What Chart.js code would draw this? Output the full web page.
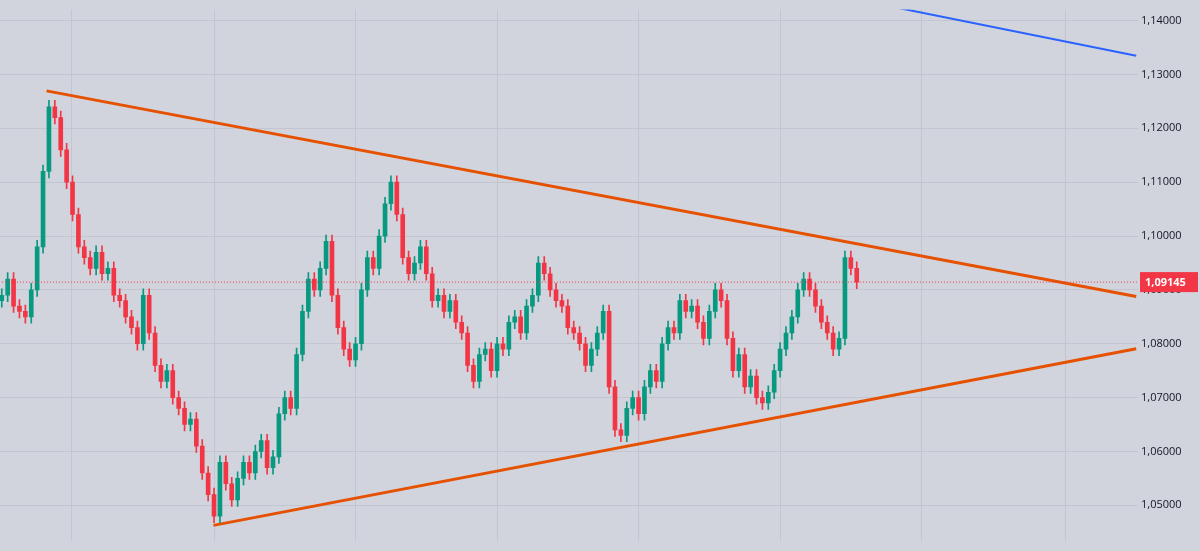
<!DOCTYPE html>
<html>
<head>
<meta charset="utf-8">
<script src="https://cdn.jsdelivr.net/npm/chart.js@4"></script>
<style>
  html, body { margin: 0; padding: 0; background: #d1d4dc; }
  #wrap { width: 1200px; height: 551px; }
</style>
</head>
<body>
<div id="wrap"><canvas id="chart"></canvas></div>
<script>
// closing prices, one per candle
var closes = [
  1.089, 1.092, 1.087, 1.086, 1.085, 1.090, 1.098, 1.112, 1.124, 1.122,
  1.116, 1.110, 1.104, 1.098, 1.096, 1.094, 1.097, 1.093, 1.094, 1.089,
  1.088, 1.085, 1.083, 1.080, 1.089, 1.082, 1.076, 1.073, 1.075, 1.070,
  1.068, 1.065, 1.066, 1.061, 1.056, 1.052, 1.048, 1.058, 1.054, 1.051,
  1.055, 1.058, 1.056, 1.060, 1.062, 1.057, 1.059, 1.067, 1.070, 1.068,
  1.078, 1.086, 1.092, 1.090, 1.094, 1.099, 1.089, 1.083, 1.079, 1.077,
  1.080, 1.090, 1.096, 1.094, 1.100, 1.106, 1.110, 1.104, 1.096, 1.093,
  1.095, 1.098, 1.093, 1.088, 1.089, 1.086, 1.088, 1.084, 1.082, 1.076,
  1.073, 1.078, 1.079, 1.075, 1.080, 1.079, 1.084, 1.085, 1.082, 1.087,
  1.089, 1.095, 1.093, 1.090, 1.088, 1.087, 1.083, 1.082, 1.080, 1.076,
  1.079, 1.082, 1.086, 1.072, 1.064, 1.063, 1.068, 1.070, 1.067, 1.072,
  1.075, 1.073, 1.080, 1.083, 1.082, 1.088, 1.086, 1.087, 1.084, 1.081,
  1.086, 1.090, 1.088, 1.081, 1.075, 1.078, 1.072, 1.074, 1.070, 1.069,
  1.071, 1.075, 1.079, 1.082, 1.085, 1.090, 1.092, 1.090, 1.087, 1.084,
  1.082, 1.079, 1.081, 1.096, 1.094, 1.09145
];
var firstOpen = 1.088;
var wick = 0.0012;

// trend lines: [x, price]
var upperLine = [[7.6, 1.12696], [192.4, 1.08876]];
var lowerLine = [[35.9, 1.04628], [192.4, 1.07907]];
var blueLine = [[145.8, 1.14373], [192.4, 1.13348]];
var lastPrice = 1.09145;

var up = '#089981', down = '#f23645';
var bodies = [], wicks = [], colors = [];
var prev = firstOpen;
closes.forEach(function (c, i) {
  var o = prev;
  bodies.push({ x: i, y: [o, c] });
  wicks.push({ x: i, y: [Math.min(o, c) - wick, Math.max(o, c) + wick] });
  colors.push(c >= o ? up : down);
  prev = c;
});

function pts(a) { return a.map(function (p) { return { x: p[0], y: p[1] }; }); }

var priceTag = {
  id: 'priceTag',
  afterDraw: function (chart) {
    var ctx = chart.ctx, y = chart.scales.y.getPixelForValue(lastPrice);
    var left = chart.chartArea.right + 2;
    ctx.save();
    ctx.fillStyle = down;
    ctx.fillRect(left, y - 10, 58, 20);
    ctx.fillStyle = '#fff';
    ctx.font = 'bold 11px "Open Sans", sans-serif';
    ctx.textBaseline = 'middle';
    ctx.fillText(lastPrice.toFixed(5).replace('.', ','), left + 5, y + 1);
    ctx.restore();
  }
};

new Chart(document.getElementById('chart'), {
  type: 'bar',
  data: {
    datasets: [
      { type: 'line', data: [{ x: -1, y: lastPrice }, { x: 200, y: lastPrice }], borderColor: down,
        borderWidth: 1, borderDash: [1, 2], pointRadius: 0 },
      { data: wicks, backgroundColor: colors, barThickness: 1, grouped: false },
      { data: bodies, backgroundColor: colors, barThickness: 4, minBarLength: 1, grouped: false },
      { type: 'line', data: pts(upperLine), borderColor: '#e65100', borderWidth: 3, pointRadius: 0 },
      { type: 'line', data: pts(lowerLine), borderColor: '#e65100', borderWidth: 3, pointRadius: 0 },
      { type: 'line', data: pts(blueLine), borderColor: '#2962ff', borderWidth: 2, pointRadius: 0 }
    ]
  },
  options: {
    responsive: true,
    maintainAspectRatio: false,
    animation: false,
    layout: { padding: 0 },
    plugins: { legend: { display: false }, tooltip: { enabled: false } },
    scales: {
      x: {
        type: 'linear', min: -0.3, max: 192.7, offset: false,
        ticks: { display: false, stepSize: 24 },
        grid: { color: 'rgba(185,188,200,0.6)', drawTicks: false },
        border: { display: false }
      },
      y: {
        position: 'right', min: 1.0433, max: 1.14205,
        afterFit: function (s) { s.width = 62; },
        ticks: {
          stepSize: 0.01, includeBounds: false, color: '#131722',
          font: { family: '"Open Sans", sans-serif', size: 11 },
          callback: function (v) { return v.toFixed(5).replace('.', ','); }
        },
        grid: { color: 'rgba(185,188,200,0.6)', drawTicks: false },
        border: { display: false }
      }
    }
  },
  plugins: [priceTag]
});
</script>
</body>
</html>
